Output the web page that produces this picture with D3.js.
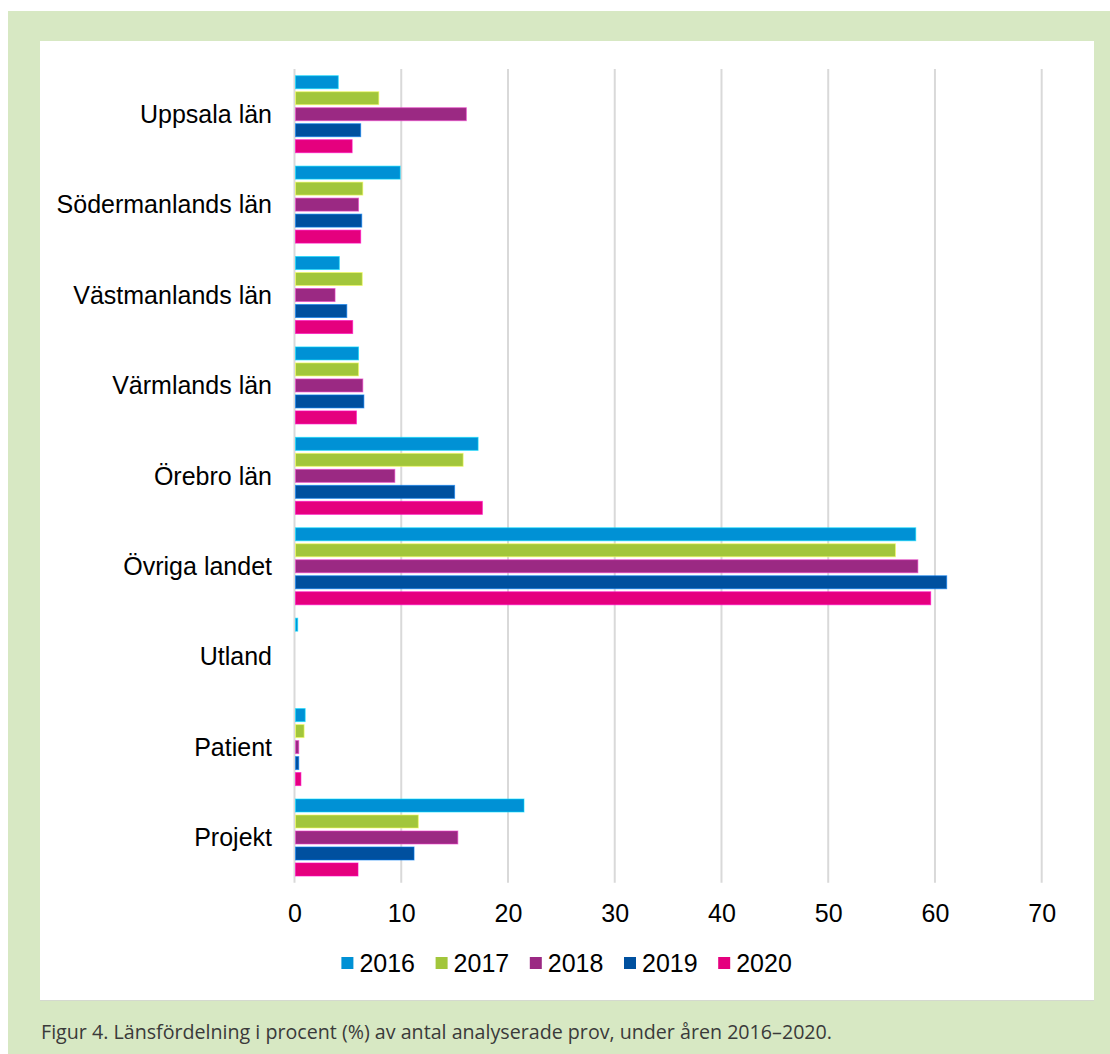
<!DOCTYPE html>
<html>
<head>
<meta charset="utf-8">
<script src="https://cdn.jsdelivr.net/npm/d3@7"></script>
<style>
  body { margin: 0; background: #ffffff; }
  text { font-family: "Liberation Sans", Arial, sans-serif; }
</style>
</head>
<body>
<div id="chart"></div>
<script>
// data (procent)
var categories = ["Uppsala län", "Södermanlands län", "Västmanlands län", "Värmlands län",
                  "Örebro län", "Övriga landet", "Utland", "Patient", "Projekt"];
var years = ["2016", "2017", "2018", "2019", "2020"];
var colors = ["#0091d5", "#a2c63b", "#9b2983", "#00509f", "#e5007e"];

var v2016 = [4.1, 9.9, 4.2, 6.0, 17.2, 58.2, 0.3, 1.0, 21.5];
var v2017 = [7.9, 6.4, 6.35, 6.0, 15.8, 56.3, 0, 0.9, 11.6];
var v2018 = [16.1, 6.0, 3.8, 6.4, 9.4, 58.4, 0, 0.4, 15.3];
var v2019 = [6.2, 6.3, 4.9, 6.5, 15.0, 61.1, 0, 0.4, 11.2];
var v2020 = [5.4, 6.2, 5.45, 5.8, 17.6, 59.6, 0, 0.6, 5.95];
var series = [v2016, v2017, v2018, v2019, v2020];

var xTicks = [0, 10, 20, 30, 40, 50, 60, 70];
var caption = "Figur 4. Länsfördelning i procent (%) av antal analyserade prov, under åren 2016–2020.";

var W = 1110, H = 1054;
var fontSize = "25px";

var svg = d3.select("#chart").append("svg")
      .attr("width", W)
      .attr("height", H);

// background frame
svg.append("rect")
      .attr("x", 8).attr("y", 11)
      .attr("width", W - 8).attr("height", H - 11)
      .attr("fill", "#d7e8c3");

svg.append("rect")
      .attr("x", 40).attr("y", 41)
      .attr("width", 1054).attr("height", 960)
      .attr("fill", "#ffffff");

svg.append("line")
      .attr("x1", 40).attr("x2", 1094)
      .attr("y1", 1000.5).attr("y2", 1000.5)
      .attr("stroke", "#d4d9cf");

// scales
var x = d3.scaleLinear()
      .domain([0, 70])
      .range([294.5, 1041.7]);

var y = d3.scaleBand()
      .domain(categories)
      .range([69, 882.7]);

var bw = y.bandwidth();
var yInner = d3.scaleBand()
      .domain(years)
      .range([bw / 2 - 38.5, bw / 2 + 38.5])
      .paddingInner(3 / 16);

// gridlines
svg.append("g")
      .selectAll("line")
      .data(xTicks)
      .enter()
      .append("line")
      .attr("x1", d => x(d)).attr("x2", d => x(d))
      .attr("y1", 69).attr("y2", 882.7)
      .attr("stroke", "#d9d9d9")
      .attr("stroke-width", 2);

// x axis labels
var xAxis = svg.append("g")
      .attr("transform", "translate(0,922)")
      .call(d3.axisBottom(x).tickValues(xTicks).tickSize(0).tickPadding(0).tickFormat(d3.format("d")));
xAxis.select(".domain").remove();
xAxis.selectAll("text")
      .attr("dy", 0)
      .attr("y", 0)
      .style("font-family", "'Liberation Sans', Arial, sans-serif")
      .style("font-size", fontSize)
      .attr("fill", "#000");

// y axis labels
var yAxis = svg.append("g")
      .attr("transform", "translate(272,0)")
      .call(d3.axisLeft(y).tickSize(0).tickPadding(0));
yAxis.select(".domain").remove();
yAxis.selectAll("text")
      .attr("dy", "0.35em")
      .style("font-family", "'Liberation Sans', Arial, sans-serif")
      .style("font-size", fontSize)
      .attr("fill", "#000");

// bars
var rows = [];
categories.forEach(function(c, i) {
      years.forEach(function(yr, j) {
            rows.push({ cat: c, year: yr, value: series[j][i], color: colors[j] });
      });
});

svg.append("g")
      .selectAll("rect")
      .data(rows.filter(d => d.value > 0))
      .enter()
      .append("rect")
      .attr("x", x(0) + 1)
      .attr("y", d => y(d.cat) + yInner(d.year))
      .attr("width", d => Math.max(0, x(d.value) - x(0) - 1))
      .attr("height", yInner.bandwidth())
      .attr("fill", d => d.color)
      .attr("stroke", d => d3.color(d.color).brighter(1.2))
      .attr("stroke-opacity", 0.6)
      .attr("stroke-width", 1);

// legend
var legend = svg.append("g")
      .selectAll("g")
      .data(years)
      .enter()
      .append("g")
      .attr("transform", (d, i) => "translate(" + (341.4 + i * 94.2) + ",0)");

legend.append("rect")
      .attr("x", 0).attr("y", 957)
      .attr("width", 12).attr("height", 12)
      .attr("fill", (d, i) => colors[i]);

legend.append("text")
      .attr("x", 18).attr("y", 972)
      .style("font-size", fontSize)
      .attr("fill", "#000")
      .text(d => d);

// caption
svg.append("text")
      .attr("x", 41).attr("y", 1039)
      .attr("textLength", 791)
      .attr("lengthAdjust", "spacingAndGlyphs")
      .style("font-family", "'Open Sans', 'Liberation Sans', sans-serif")
      .style("font-size", "20px")
      .attr("fill", "#3a3a3a")
      .text(caption);
</script>
</body>
</html>
